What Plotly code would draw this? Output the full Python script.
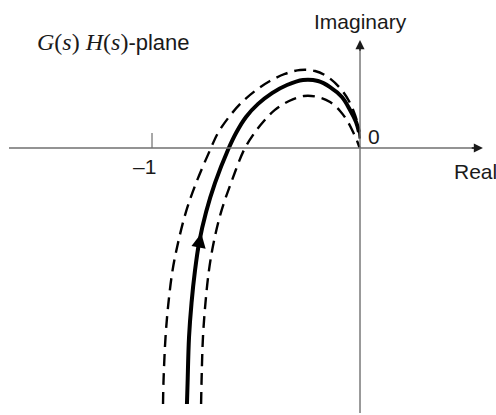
import numpy as np
import plotly.graph_objects as go

# Nominal locus G(jw)H(jw) (solid) and its uncertainty band (dashed)
nominal_re = [-0.832, -0.829, -0.822, -0.810, -0.793, -0.774, -0.740, -0.697, -0.635,
              -0.596, -0.548, -0.490, -0.423, -0.351, -0.274, -0.202, -0.144, -0.087,
              -0.048, -0.019, -0.005]
nominal_im = [-1.231, -1.130, -0.909, -0.745, -0.587, -0.457, -0.308, -0.168, -0.010,
              0.072, 0.149, 0.212, 0.264, 0.303, 0.327, 0.322, 0.293, 0.245,
              0.183, 0.125, 0.077]

outer_re = [-0.947, -0.945, -0.935, -0.921, -0.901, -0.875, -0.837, -0.788, -0.721,
            -0.683, -0.630, -0.572, -0.505, -0.433, -0.361, -0.288, -0.216, -0.154,
            -0.096, -0.053, -0.024, -0.007, 0.000]
outer_im = [-1.231, -1.130, -0.909, -0.745, -0.587, -0.457, -0.308, -0.168, -0.010,
            0.072, 0.149, 0.216, 0.274, 0.322, 0.356, 0.375, 0.370, 0.341,
            0.288, 0.226, 0.159, 0.096, 0.029]

inner_re = [-0.764, -0.762, -0.755, -0.743, -0.726, -0.704, -0.668, -0.620, -0.558,
            -0.514, -0.466, -0.409, -0.341, -0.269, -0.202, -0.144, -0.096, -0.058,
            -0.029, -0.012, -0.002]
inner_im = [-1.231, -1.130, -0.909, -0.745, -0.587, -0.457, -0.308, -0.168, -0.010,
            0.063, 0.125, 0.183, 0.226, 0.250, 0.245, 0.221, 0.178, 0.125,
            0.067, 0.029, 0.000]

tick_values = [-1]
tick_labels = ["\u20131"]

X_RANGE = [-1.7308, 0.6538]
Y_RANGE = [-1.2837, 0.7115]
AXIS_GRAY = "#6f6f6f"
INK = "#1a1a1a"
SANS = "Liberation Sans, Arial, sans-serif"
SERIF = "Liberation Serif, DejaVu Serif, serif"
LABEL_SIZE = 21

fig = go.Figure()

band_dash = "12px,7px"
for re, im in ((outer_re, outer_im), (inner_re, inner_im)):
    fig.add_trace(go.Scatter(x=re, y=im, mode="lines",
                             line=dict(color="black", width=2.4, dash=band_dash,
                                       shape="spline", smoothing=1.0),
                             hoverinfo="skip", showlegend=False))

fig.add_trace(go.Scatter(x=nominal_re, y=nominal_im, mode="lines",
                         line=dict(color="black", width=4, shape="spline", smoothing=1.0),
                         hoverinfo="skip", showlegend=False))

# Direction arrow on the nominal locus (increasing frequency goes upward)
order = np.argsort(nominal_im)
im_sorted = np.array(nominal_im)[order]
re_sorted = np.array(nominal_re)[order]
tip_im, tail_im = -0.41, -0.50
tip_re = float(np.interp(tip_im, im_sorted, re_sorted))
tail_re = float(np.interp(tail_im, im_sorted, re_sorted))

annotations = [
    dict(x=tip_re, y=tip_im, ax=tail_re, ay=tail_im, xref="x", yref="y",
         axref="x", ayref="y", text="", showarrow=True, arrowhead=2,
         arrowsize=1.2, arrowwidth=2.4, arrowcolor="black"),
]

# Real and imaginary axes
shapes = [
    dict(type="line", x0=-1.6875, x1=0.57, y0=0, y1=0, xref="x", yref="y",
         line=dict(color=AXIS_GRAY, width=1.4)),
    dict(type="line", x0=0, x1=0, y0=-1.274, y1=0.50, xref="x", yref="y",
         line=dict(color=AXIS_GRAY, width=1.4)),
]
annotations += [
    dict(x=0.591, y=0, ax=0.53, ay=0, xref="x", yref="y", axref="x", ayref="y",
         text="", showarrow=True, arrowhead=2, arrowsize=1.4, arrowwidth=1.3,
         arrowcolor=INK),
    dict(x=0, y=0.519, ax=0, ay=0.46, xref="x", yref="y", axref="x", ayref="y",
         text="", showarrow=True, arrowhead=2, arrowsize=1.4, arrowwidth=1.3,
         arrowcolor=INK),
]

for tv, tl in zip(tick_values, tick_labels):
    shapes.append(dict(type="line", x0=tv, x1=tv, y0=0, y1=0.072, xref="x", yref="y",
                       line=dict(color=AXIS_GRAY, width=1.2)))
    annotations.append(dict(x=tv - 0.034, y=-0.087, xref="x", yref="y", text=tl,
                            showarrow=False,
                            font=dict(family=SANS, size=LABEL_SIZE, color=INK)))

annotations += [
    dict(x=0.03, y=0.053, xref="x", yref="y", text="0", xanchor="left",
         showarrow=False, font=dict(family=SANS, size=LABEL_SIZE, color=INK)),
    dict(x=0.44, y=-0.115, xref="x", yref="y", text="Real", xanchor="left",
         showarrow=False, font=dict(family=SANS, size=LABEL_SIZE, color=INK)),
    dict(x=0, y=0.606, xref="x", yref="y", text="Imaginary", xanchor="center",
         showarrow=False, font=dict(family=SANS, size=LABEL_SIZE, color=INK)),
    dict(x=-1.5625, y=0.51, xref="x", yref="y", xanchor="left", showarrow=False,
         text=(f'<span style="font-family:{SERIF};font-size:24px"><i>G</i>(<i>s</i>) '
               f'<i>H</i>(<i>s</i>)</span>-plane'),
         font=dict(family=SANS, size=22, color=INK)),
]

fig.update_layout(
    width=496, height=415,
    margin=dict(l=0, r=0, t=0, b=0),
    paper_bgcolor="white", plot_bgcolor="white",
    xaxis=dict(range=X_RANGE, visible=False, fixedrange=True),
    yaxis=dict(range=Y_RANGE, visible=False, fixedrange=True),
    shapes=shapes, annotations=annotations, showlegend=False,
)

fig.write_html("out.html")
